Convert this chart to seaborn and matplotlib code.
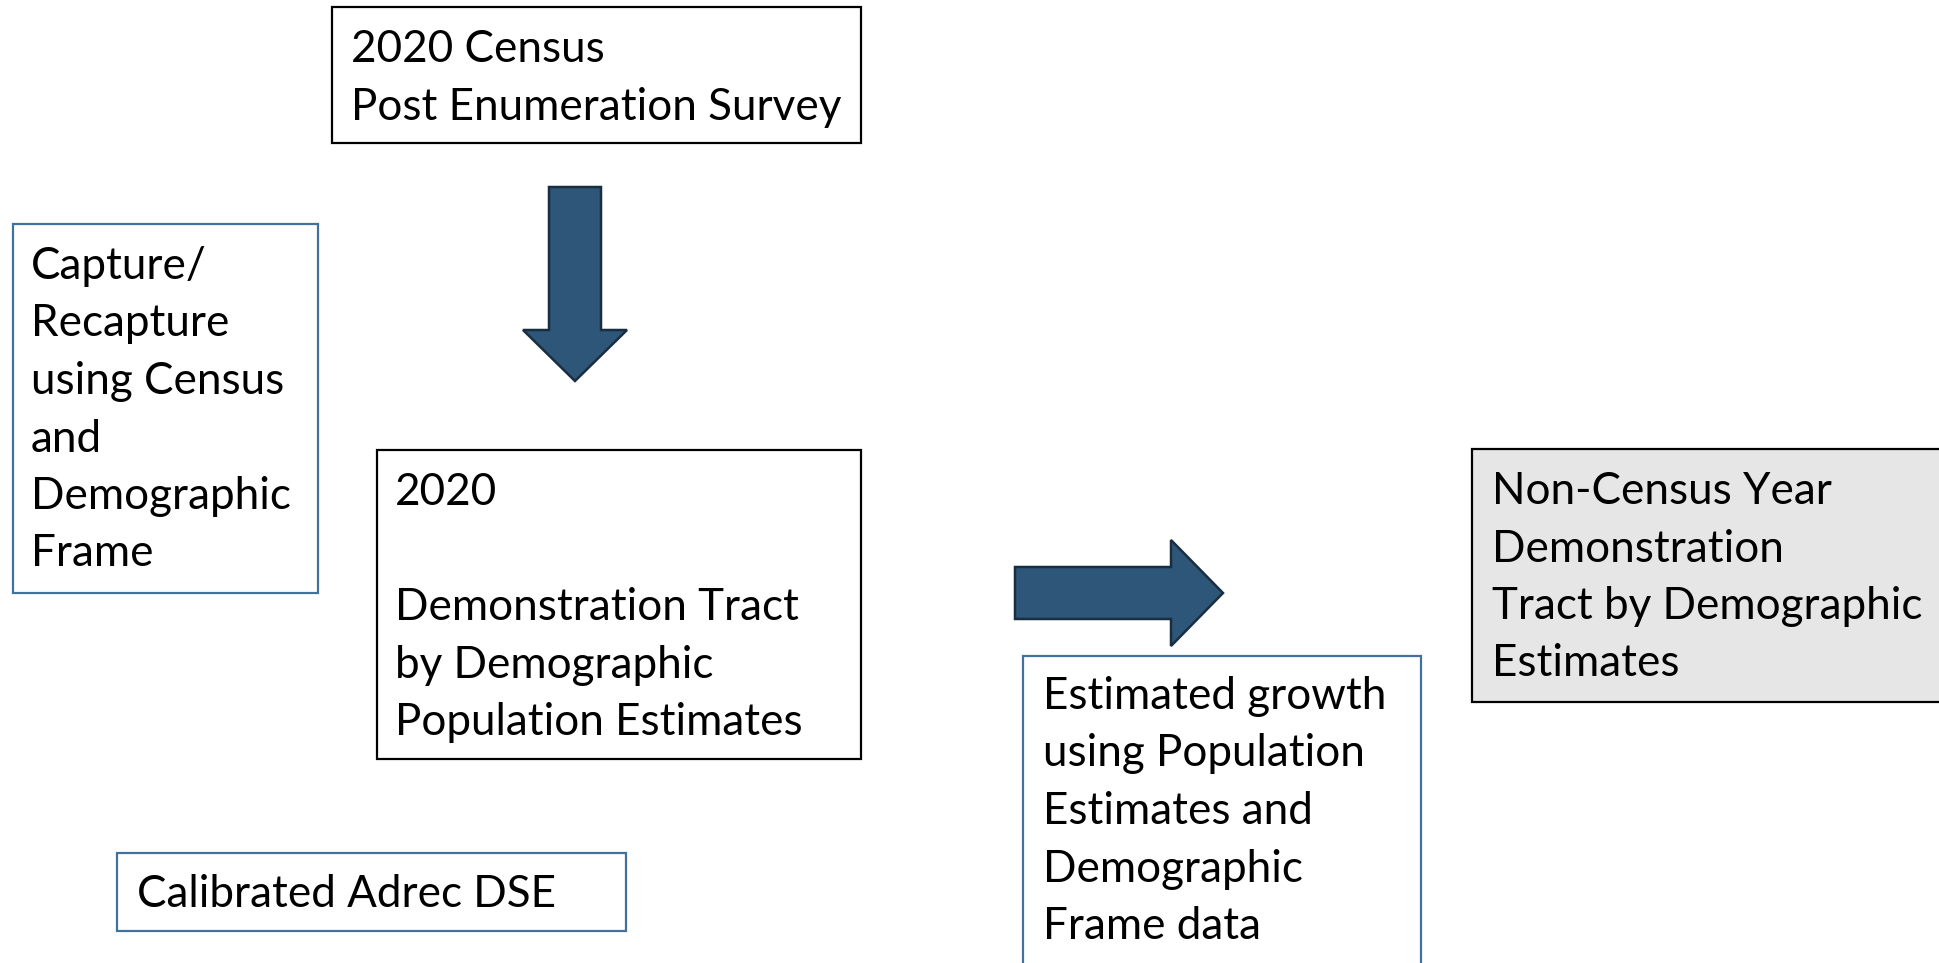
import matplotlib
matplotlib.use("Agg")
import matplotlib.pyplot as plt
from matplotlib.patches import Rectangle, Polygon
import seaborn as sns

sns.set_theme(style="white")
plt.rcParams['font.family'] = ['Lato', 'DejaVu Sans']

# box labels, one list entry per text line ('' = blank line)
box_labels = [
    ["2020 Census", "Post Enumeration Survey"],
    ["Capture/", "Recapture", "using Census", "and", "Demographic", "Frame"],
    ["2020", "", "Demonstration Tract", "by Demographic", "Population Estimates"],
    ["Calibrated Adrec DSE"],
    ["Estimated growth", "using Population", "Estimates and", "Demographic", "Frame data"],
    ["Non-Census Year", "Demonstration", "Tract by Demographic", "Estimates"],
]
# box extents in pixels: left, top, right, bottom
box_left = [332, 13, 377, 117, 1023, 1472]
box_top = [7, 224, 450, 853, 656, 449]
box_right = [861, 318, 861, 626, 1421, 1960]
box_bottom = [143, 593, 759, 931, 990, 702]
box_edge = ["black", "#41719c", "black", "#41719c", "#41719c", "black"]
box_fill = ["white", "white", "white", "white", "white", "#e7e6e6"]
# first text baseline and left edge
text_x = [351, 31, 395, 137, 1043, 1492]
text_y = [62, 279, 505, 907, 709, 504]
line_pitch = 57.5

# block arrows: shaft start, neck, tip, shaft half width, head half width, centre
arrow_dir = ["down", "right"]
arrow_centre = [575, 593]
arrow_start = [187, 1015]
arrow_neck = [330, 1171]
arrow_tip = [381, 1223]
arrow_shaft_half = [26, 26]
arrow_head_half = [52, 53]

fig = plt.figure(figsize=(19.39, 9.63), dpi=100)
ax = fig.add_axes([0, 0, 1, 1])
ax.set_xlim(0, 1939)
ax.set_ylim(963, 0)
ax.axis("off")

for i, lines in enumerate(box_labels):
    ax.add_patch(Rectangle((box_left[i], box_top[i]), box_right[i] - box_left[i],
                           box_bottom[i] - box_top[i], facecolor=box_fill[i],
                           edgecolor=box_edge[i], linewidth=1.6))
    for j, line in enumerate(lines):
        ax.text(text_x[i], text_y[i] + j * line_pitch, line, fontsize=31.7,
                color="black", ha="left", va="baseline")

for k in range(len(arrow_dir)):
    c, s, n, t = arrow_centre[k], arrow_start[k], arrow_neck[k], arrow_tip[k]
    w, h = arrow_shaft_half[k], arrow_head_half[k]
    pts = [(c - w, s), (c - w, n), (c - h, n), (c, t), (c + h, n), (c + w, n), (c + w, s)]
    if arrow_dir[k] == "right":
        pts = [(b, a) for a, b in pts]
    ax.add_patch(Polygon(pts, closed=True, facecolor="#2e5678", edgecolor="#1a2e42",
                         linewidth=1.8, joinstyle="miter"))

fig.savefig("out.png", dpi=100, facecolor="white")
